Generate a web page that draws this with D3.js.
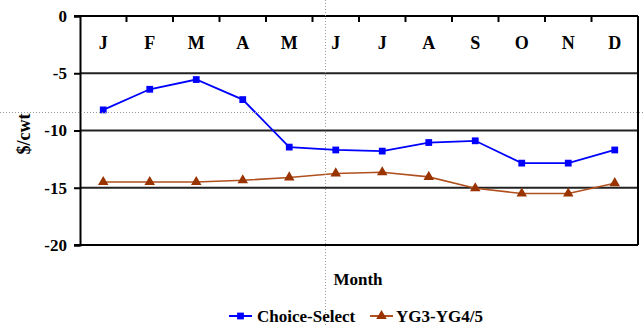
<!DOCTYPE html>
<html>
<head>
<meta charset="utf-8">
<script src="https://cdn.jsdelivr.net/npm/d3@7"></script>
<style>
  html, body { margin: 0; padding: 0; background: #fff; }
  svg { display: block; }
</style>
</head>
<body>
<svg id="chart" width="644" height="326"></svg>
<script>
// Monthly price spreads, $/cwt
const months = ["J", "F", "M", "A", "M", "J", "J", "A", "S", "O", "N", "D"];
const choiceSelect = [-8.2, -6.4, -5.55, -7.3, -11.45, -11.7, -11.8, -11.05, -10.9, -12.85, -12.85, -11.7];
const yieldGrade = [-14.5, -14.5, -14.5, -14.35, -14.1, -13.75, -13.65, -14.05, -15.05, -15.5, -15.5, -14.6];
const yTicks = [0, -5, -10, -15, -20];
const seriesNames = ["Choice-Select", "YG3-YG4/5"];

const FONT = "'Liberation Serif'";
const serif = sel => sel.style("font-family", FONT).style("font-weight", "bold");

const svg = d3.select("#chart");
const W = 644, H = 326;
const m = { left: 80, right: 638, top: 16, bottom: 245 };

const keys = months.map((d, i) => i);
const x = d3.scaleBand().domain(keys).range([m.left, m.right]);
const y = d3.scaleLinear().domain([-20, 0]).range([m.bottom, m.top]);

// horizontal gridlines
svg.append("g").selectAll("line").data(yTicks.filter(t => t !== 0 && t !== -20)).join("line")
  .attr("x1", m.left).attr("x2", m.right)
  .attr("y1", d => y(d)).attr("y2", d => y(d))
  .attr("stroke", "#222").attr("stroke-width", 2);

// left value axis
const yAxis = svg.append("g").attr("transform", `translate(${m.left},0)`)
  .call(d3.axisLeft(y).tickValues(yTicks).tickSize(6).tickPadding(7).tickFormat(d3.format("d")));
yAxis.select(".domain").attr("stroke", "#000").attr("stroke-width", 2);
yAxis.selectAll(".tick line").attr("stroke", "#000").attr("stroke-width", 2);
yAxis.selectAll("text").attr("font-size", 17).attr("fill", "#000")
  .text(d => d < 0 ? "-" + Math.abs(d) : d).call(serif);

// top category axis with ticks at band edges
const edges = d3.range(1, months.length).map(i => m.left + i * x.step());
svg.append("g").selectAll("line").data(edges).join("line")
  .attr("x1", d => d).attr("x2", d => d)
  .attr("y1", m.top).attr("y2", m.top + 6)
  .attr("stroke", "#000").attr("stroke-width", 2);
svg.append("line").attr("x1", m.left - 6).attr("x2", m.right)
  .attr("y1", m.top).attr("y2", m.top).attr("stroke", "#000").attr("stroke-width", 2);
svg.append("line").attr("x1", m.left - 6).attr("x2", m.right)
  .attr("y1", m.bottom).attr("y2", m.bottom).attr("stroke", "#000").attr("stroke-width", 2);
svg.append("line").attr("x1", m.right).attr("x2", m.right)
  .attr("y1", m.top).attr("y2", m.bottom).attr("stroke", "#000").attr("stroke-width", 2);

svg.append("g").selectAll("text").data(keys).join("text")
  .attr("x", d => x(d) + x.bandwidth() / 2).attr("y", 49)
  .attr("text-anchor", "middle").attr("font-size", 18)
  .text(d => months[d]).call(serif);

// axis titles
svg.append("text").attr("transform", "translate(30,134) rotate(-90)")
  .attr("text-anchor", "middle").attr("font-size", 18).text("$/cwt").call(serif);
svg.append("text").attr("x", 358).attr("y", 285)
  .attr("text-anchor", "middle").attr("font-size", 17).text("Month").call(serif);

// series
const line = d3.line().x((d, i) => x(i) + x.bandwidth() / 2).y(d => y(d));
const blue = "#0000ff", brown = "#993300", brownLine = "#b0501e";

svg.append("path").datum(yieldGrade).attr("d", line)
  .attr("fill", "none").attr("stroke", brownLine).attr("stroke-width", 1.6);
svg.append("path").datum(choiceSelect).attr("d", line)
  .attr("fill", "none").attr("stroke", blue).attr("stroke-width", 1.8);

const tri = d3.symbol().type(d3.symbolTriangle).size(48);
const sq = d3.symbol().type(d3.symbolSquare).size(46);

svg.append("g").selectAll("path").data(yieldGrade).join("path")
  .attr("transform", (d, i) => `translate(${x(i) + x.bandwidth() / 2},${y(d)})`)
  .attr("d", tri).attr("fill", brown);
svg.append("g").selectAll("path").data(choiceSelect).join("path")
  .attr("transform", (d, i) => `translate(${x(i) + x.bandwidth() / 2},${y(d)})`)
  .attr("d", sq).attr("fill", blue);

// legend
const legend = svg.append("g");
const items = [
  { name: seriesNames[0], x0: 229, color: blue, lineColor: blue, sym: sq, tx: 257 },
  { name: seriesNames[1], x0: 370, color: brown, lineColor: brownLine, sym: tri, tx: 396 }
];
items.forEach(it => {
  legend.append("line").attr("x1", it.x0).attr("x2", it.x0 + 23)
    .attr("y1", 316).attr("y2", 316).attr("stroke", it.lineColor).attr("stroke-width", 2);
  legend.append("path").attr("transform", `translate(${it.x0 + 11.5},316)`)
    .attr("d", it.sym).attr("fill", it.color);
  legend.append("text").attr("x", it.tx).attr("y", 322).attr("font-size", 17)
    .text(it.name).call(serif);
});

// dotted guide lines
svg.append("line").attr("x1", 0).attr("x2", W).attr("y1", 112.5).attr("y2", 112.5)
  .attr("stroke", "#999").attr("stroke-width", 1).attr("stroke-dasharray", "1,2");
svg.append("line").attr("x1", 325.5).attr("x2", 325.5).attr("y1", 0).attr("y2", H)
  .attr("stroke", "#999").attr("stroke-width", 1).attr("stroke-dasharray", "1,2");
</script>
</body>
</html>
